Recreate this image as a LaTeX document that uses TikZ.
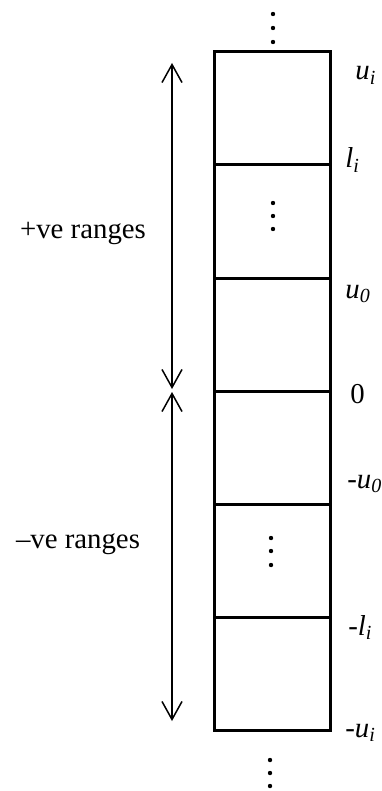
\documentclass[tikz,border=0pt]{standalone}
\usepackage{fontspec}
\setmainfont{Liberation Serif}
\usetikzlibrary{arrows.meta}
\begin{document}
\begin{tikzpicture}[x=0.5pt,y=-0.5pt,
  cell/.style={draw,line width=1.5pt,minimum width=58pt,minimum height=56.5pt,inner sep=0pt,outer sep=0pt},
  lbl/.style={anchor=base west,inner sep=0pt,font=\fontsize{14.4}{16}\selectfont},
  rng/.style={anchor=base,inner sep=0pt,font=\fontsize{14.4}{16}\selectfont},
  dot/.style={fill=black,draw=none,circle,minimum size=2.2pt,inner sep=0pt},
  rangearrow/.style={line width=0.75pt,{Straight Barb[length=9pt,width=10pt]}-{Straight Barb[length=9pt,width=10pt]}}]
\useasboundingbox (0,0) rectangle (381,791);
% cells
\node[cell] (c1) at (272.5,108.5) {};
\node[cell] (c2) at (272.5,221.5) {};
\node[cell] (c3) at (272.5,334.5) {};
\node[cell] (c4) at (272.5,447.5) {};
\node[cell] (c5) at (272.5,560.5) {};
\node[cell] (c6) at (272.5,673.5) {};
% dots
\foreach \y [count=\i] in {14,28,42} \node[dot] (td\i) at (273,\y) {};
\foreach \y [count=\i] in {203,216,229} \node[dot] (md\i) at (273,\y) {};
\foreach \y [count=\i] in {538,551,565} \node[dot] (nd\i) at (271,\y) {};
\foreach \y [count=\i] in {760,773,786} \node[dot] (bd\i) at (270,\y) {};
% arrows
\coordinate (p1) at (172,63);
\coordinate (p2) at (172,389);
\coordinate (n1) at (172,392);
\coordinate (n2) at (172,721);
\draw[rangearrow] (p1) -- (p2);
\draw[rangearrow] (n1) -- (n2);
% range labels
\node[rng] (pos) at (83,238) {+ve ranges};
\node[rng] (neg) at (78,548) {–ve ranges};
% boundary labels
\node[lbl] (lui) at (355,80) {\textit{u}\textsubscript{\textit{i}}};
\node[lbl] (lli) at (345,168) {\textit{l}\textsubscript{\textit{i}}};
\node[lbl] (lu0) at (345,298) {\textit{u}\textsubscript{\textit{0}}};
\node[lbl] (lz) at (350,403) {0};
\node[lbl] (lmu0) at (347,488) {-\textit{u}\textsubscript{\textit{0}}};
\node[lbl] (lmli) at (348,635) {-\textit{l}\textsubscript{\textit{i}}};
\node[lbl] (lmui) at (345,737) {-\textit{u}\textsubscript{\textit{i}}};
\end{tikzpicture}
\end{document}
